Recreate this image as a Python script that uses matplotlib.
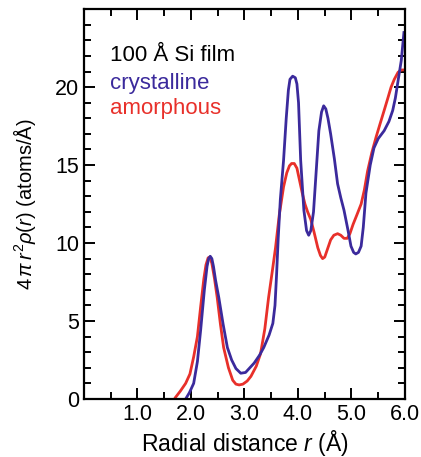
import matplotlib
matplotlib.use('Agg')
import matplotlib.pyplot as plt
from matplotlib.ticker import MultipleLocator

plt.rcParams['font.family'] = ['Liberation Sans', 'DejaVu Sans']
plt.rcParams['mathtext.fontset'] = 'custom'
plt.rcParams['mathtext.rm'] = 'Liberation Sans'
plt.rcParams['mathtext.it'] = 'Liberation Sans:italic'

# crystalline Si
r_cryst = [1.90, 1.97, 2.05, 2.12, 2.18, 2.25, 2.30, 2.33, 2.36, 2.39, 2.42, 2.46, 2.52, 2.60,
           2.68, 2.76, 2.84, 2.93, 3.02, 3.10, 3.18, 3.28, 3.36, 3.46, 3.53, 3.57, 3.60, 3.63,
           3.67, 3.73, 3.78, 3.82, 3.85, 3.90, 3.95, 3.98, 4.01, 4.05, 4.11, 4.16, 4.20, 4.24,
           4.29, 4.34, 4.39, 4.44, 4.48, 4.52, 4.56, 4.61, 4.68, 4.74, 4.80, 4.86, 4.93, 4.99,
           5.04, 5.08, 5.13, 5.18, 5.22, 5.27, 5.35, 5.42, 5.50, 5.61, 5.70, 5.77, 5.82, 5.87,
           5.93, 5.98]
v_cryst = [0.0, 0.4, 1.0, 2.4, 4.4, 7.0, 8.5, 9.0, 9.15, 9.0, 8.5, 7.6, 6.5, 4.8,
           3.3, 2.5, 1.95, 1.65, 1.7, 2.0, 2.3, 2.8, 3.3, 4.1, 4.85, 6.0, 8.0, 10.3,
           12.8, 15.3, 18.0, 19.8, 20.5, 20.7, 20.6, 20.2, 19.0, 15.3, 12.1, 10.8, 10.5, 10.8,
           12.0, 14.6, 17.2, 18.4, 18.8, 18.6, 18.0, 17.0, 15.4, 13.8, 12.9, 12.1, 10.9, 9.8,
           9.4, 9.3, 9.4, 9.8, 11.0, 13.2, 15.0, 16.1, 16.7, 17.2, 17.8, 18.5, 19.3, 20.4,
           21.7, 23.5]

# amorphous Si
r_amor = [1.71, 1.80, 1.90, 1.98, 2.05, 2.12, 2.18, 2.24, 2.28, 2.32, 2.35, 2.39, 2.44, 2.49,
          2.55, 2.61, 2.70, 2.78, 2.84, 2.90, 2.97, 3.05, 3.12, 3.22, 3.30, 3.38, 3.45, 3.52,
          3.58, 3.65, 3.73, 3.79, 3.84, 3.88, 3.93, 3.98, 4.03, 4.08, 4.13, 4.18, 4.24, 4.30,
          4.37, 4.42, 4.46, 4.50, 4.55, 4.61, 4.67, 4.74, 4.80, 4.86, 4.92, 4.97, 5.03, 5.10,
          5.18, 5.24, 5.30, 5.38, 5.46, 5.53, 5.61, 5.68, 5.74, 5.80, 5.87, 5.93, 6.00]
v_amor = [0.1, 0.5, 1.0, 1.6, 2.7, 4.0, 5.9, 7.7, 8.6, 9.05, 9.1, 8.7, 7.7, 6.5,
          4.8, 3.3, 2.0, 1.2, 0.95, 0.9, 0.95, 1.15, 1.45, 2.1, 2.9, 4.5, 6.5, 8.2,
          9.7, 11.8, 13.6, 14.5, 14.95, 15.1, 15.1, 14.8, 14.0, 13.2, 12.5, 12.0, 11.5, 10.7,
          9.7, 9.2, 9.0, 9.1, 9.6, 10.2, 10.5, 10.6, 10.5, 10.3, 10.3, 10.6, 11.2, 11.8,
          12.5, 13.4, 14.6, 15.8, 16.8, 17.6, 18.5, 19.3, 20.0, 20.5, 20.95, 21.1, 21.1]

fig = plt.figure(figsize=(4.21, 4.57), dpi=100)
ax = fig.add_axes([0.1995, 0.127, 0.7625, 0.853])

ax.plot(r_amor, v_amor, color='#e8302a', lw=2.0, solid_joinstyle='round')
ax.plot(r_cryst, v_cryst, color='#3b2a9c', lw=2.0, solid_joinstyle='round')

ax.set_xlim(0, 6)
ax.set_ylim(0, 25)
ax.set_xticks([1, 2, 3, 4, 5, 6])
ax.set_xticklabels(['1.0', '2.0', '3.0', '4.0', '5.0', '6.0'])
ax.set_yticks([0, 5, 10, 15, 20])
ax.xaxis.set_minor_locator(MultipleLocator(0.5))
ax.yaxis.set_minor_locator(MultipleLocator(1))
ax.tick_params(which='both', direction='in', top=True, right=True, width=1.4)
ax.tick_params(which='major', length=8, labelsize=15.5)
ax.tick_params(which='minor', length=5)
for s in ax.spines.values():
    s.set_linewidth(1.6)

ax.set_xlabel(r'Radial distance $r$ (Å)', fontsize=16.5, labelpad=2)
ax.set_ylabel(r'4$\,\pi\,r^2\rho(r)$ (atoms/Å)', fontsize=14.5, labelpad=12)

ax.text(0.49, 22.0, '100 Å Si film', fontsize=16, color='black', va='center')
ax.text(0.49, 20.25, 'crystalline', fontsize=16, color='#3b2a9c', va='center')
ax.text(0.49, 18.6, 'amorphous', fontsize=16, color='#e8302a', va='center')

fig.savefig('out.png', dpi=100)
